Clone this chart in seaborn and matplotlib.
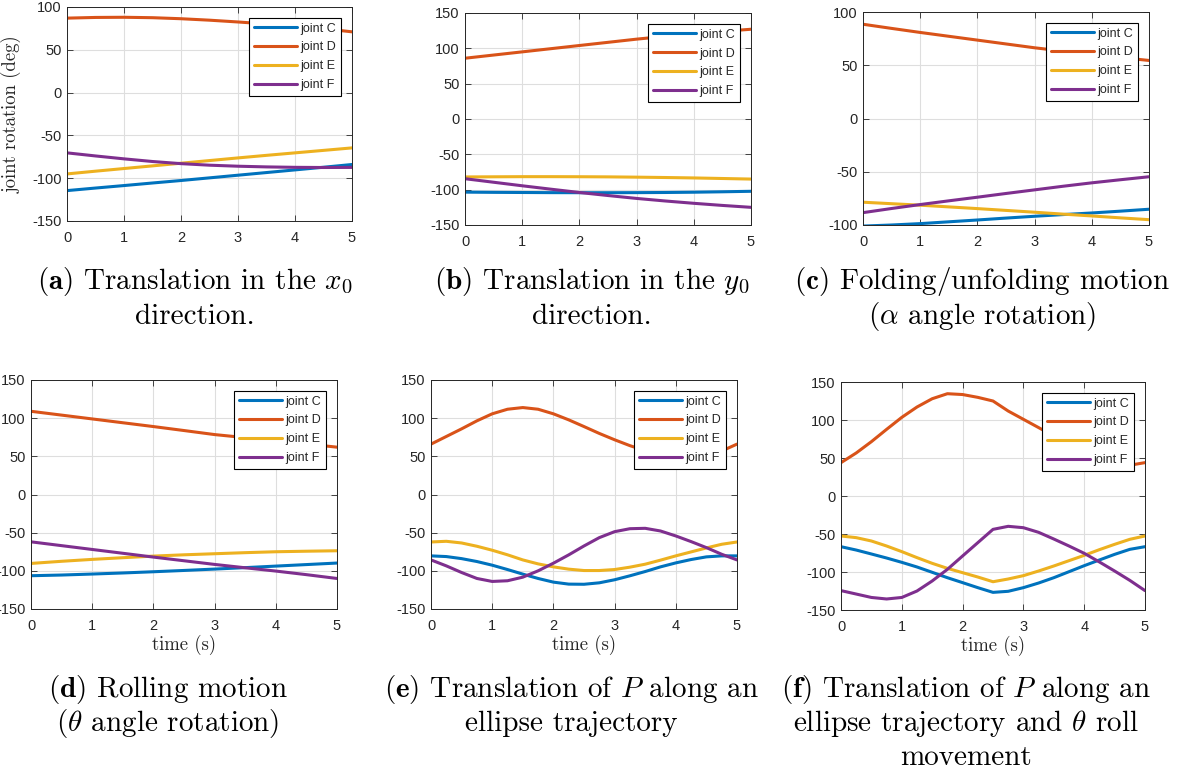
import matplotlib
matplotlib.use("Agg")
import matplotlib.pyplot as plt
from matplotlib.lines import Line2D
import numpy as np
import pandas as pd
import seaborn as sns

# ---------------- data ----------------
joints = ["joint C", "joint D", "joint E", "joint F"]
colors = ["#0072BD", "#D95319", "#EDB120", "#7E2F8E"]

t_half = [0.0, 0.5, 1.0, 1.5, 2.0, 2.5, 3.0, 3.5, 4.0, 4.5, 5.0]
t_quarter = [0.0, 0.25, 0.5, 0.75, 1.0, 1.25, 1.5, 1.75, 2.0, 2.25, 2.5,
             2.75, 3.0, 3.25, 3.5, 3.75, 4.0, 4.25, 4.5, 4.75, 5.0]

# (a) translation in x0
a_C = [-114.5, -111.5, -108.6, -105.6, -102.7, -99.6, -96.5, -93.4, -90.3, -87.2, -84.0]
a_D = [87.0, 87.8, 88.0, 87.5, 86.3, 84.6, 82.5, 80.2, 77.8, 74.7, 71.0]
a_E = [-95.0, -91.8, -88.7, -85.6, -82.5, -79.4, -76.3, -73.3, -70.4, -67.5, -64.6]
a_F = [-70.4, -74.0, -77.4, -80.5, -83.0, -84.8, -86.0, -86.8, -87.3, -87.5, -87.4]

# (b) translation in y0
b_C = [-103.5, -103.8, -104.0, -104.2, -104.3, -104.3, -104.2, -104.0, -103.6, -103.0, -102.3]
b_D = [86.0, 90.5, 95.0, 99.5, 104.0, 108.5, 113.0, 117.0, 120.5, 124.0, 127.0]
b_E = [-82.0, -81.8, -81.6, -81.6, -81.7, -81.9, -82.3, -82.8, -83.4, -84.2, -85.0]
b_F = [-84.5, -89.5, -94.5, -99.3, -104.0, -108.3, -112.4, -116.0, -119.3, -122.3, -125.0]

# (c) folding / unfolding
c_C = [-101.0, -100.0, -98.7, -97.0, -95.3, -93.5, -91.8, -90.2, -88.7, -87.0, -85.2]
c_D = [88.5, 84.6, 80.8, 77.2, 73.6, 70.0, 66.4, 63.3, 60.3, 57.3, 54.5]
c_E = [-78.6, -80.0, -81.4, -83.0, -84.6, -86.3, -88.0, -89.8, -91.5, -93.3, -95.0]
c_F = [-88.4, -84.5, -80.8, -77.3, -73.9, -70.4, -67.0, -63.6, -60.4, -57.5, -54.7]

# (d) rolling motion
d_C = [-106.4, -105.5, -104.2, -102.8, -101.2, -99.5, -97.7, -95.8, -93.8, -91.8, -89.8]
d_D = [109.0, 104.0, 99.0, 94.0, 89.0, 83.8, 78.5, 74.5, 70.6, 66.3, 62.0]
d_E = [-90.3, -87.5, -85.0, -82.8, -80.7, -79.0, -77.6, -76.2, -75.0, -74.3, -73.7]
d_F = [-62.0, -67.0, -72.0, -77.0, -82.0, -86.8, -91.6, -96.0, -100.3, -105.0, -110.0]

# (e) ellipse trajectory
e_C = [-80.4, -81.3, -84.0, -87.8, -92.6, -98.3, -104.3, -110.0, -114.8, -117.4, -117.6,
       -115.7, -111.7, -106.5, -100.9, -94.8, -89.6, -85.2, -81.7, -80.4, -80.4]
e_D = [66.0, 76.0, 86.0, 96.5, 105.7, 111.7, 113.9, 111.7, 105.7, 97.8, 89.0,
       80.0, 71.7, 64.0, 57.5, 52.5, 50.0, 49.8, 51.5, 57.0, 66.0]
e_E = [-62.2, -61.3, -63.5, -67.8, -73.0, -79.0, -85.7, -90.9, -94.8, -97.8, -99.6,
       -99.6, -98.3, -95.2, -91.3, -86.0, -80.4, -75.2, -70.0, -65.2, -62.2]
e_F = [-85.7, -93.5, -102.2, -110.0, -113.9, -113.0, -108.3, -100.0, -90.0, -79.1, -67.4,
       -56.5, -48.7, -44.8, -44.3, -47.8, -54.3, -61.7, -69.6, -78.3, -85.7]

# (f) ellipse trajectory + roll
f_C = [-66.7, -71.1, -76.3, -81.6, -87.3, -93.4, -100.4, -107.5, -114.0, -120.6, -126.8,
       -125.4, -120.6, -114.5, -107.5, -99.6, -91.7, -84.2, -76.8, -70.2, -66.7]
f_D = [43.9, 56.6, 71.5, 87.7, 103.5, 117.1, 128.0, 134.6, 133.5, 129.8, 125.0,
       111.8, 100.9, 90.0, 79.0, 68.5, 58.5, 50.0, 43.5, 40.5, 43.9]
f_E = [-52.6, -54.8, -59.2, -65.8, -73.2, -81.1, -88.6, -95.2, -100.9, -106.6, -112.8,
       -109.2, -104.8, -98.7, -92.1, -85.1, -78.1, -70.6, -63.6, -57.0, -52.6]
f_F = [-124.5, -129.0, -133.5, -135.5, -133.5, -125.0, -111.8, -96.5, -78.9, -61.4, -43.9,
       -39.9, -41.7, -47.8, -56.6, -65.8, -75.4, -86.8, -98.7, -111.0, -124.5]

x_ticks = [0, 1, 2, 3, 4, 5]

captions = [
    ["$\\mathbf{(a)}$ Translation in the $x_0$", "direction."],
    ["$\\mathbf{(b)}$ Translation in the $y_0$", "direction."],
    ["$\\mathbf{(c)}$ Folding/unfolding motion", "($\\alpha$ angle rotation)"],
    ["$\\mathbf{(d)}$ Rolling motion", "($\\theta$ angle rotation)"],
    ["$\\mathbf{(e)}$ Translation of $P$ along an", "ellipse trajectory"],
    ["$\\mathbf{(f)}$ Translation of $P$ along an", "ellipse trajectory and $\\theta$ roll",
     "movement"],
]

# ---------------- style ----------------
sns.set_style("ticks")
plt.rcParams.update({
    "font.family": ["Liberation Sans", "DejaVu Sans"],
    "mathtext.fontset": "cm",
    "axes.unicode_minus": False,
})

W, H = 1190, 778
fig = plt.figure(figsize=(W / 100, H / 100), dpi=100)

# pixel boxes (left, right, top, bottom)
boxes = [
    (67, 352, 7, 221),
    (465, 751, 13, 225),
    (863, 1149, 12, 225),
    (31, 337, 380, 609),
    (431, 737, 380, 609),
    (841, 1145, 382, 610),
]
ylims = [(-150, 100), (-150, 150), (-100, 100), (-150, 150), (-150, 150), (-150, 150)]
series = [
    (t_half, a_C, a_D, a_E, a_F),
    (t_half, b_C, b_D, b_E, b_F),
    (t_half, c_C, c_D, c_E, c_F),
    (t_half, d_C, d_D, d_E, d_F),
    (t_quarter, e_C, e_D, e_E, e_F),
    (t_quarter, f_C, f_D, f_E, f_F),
]
cap_x = [195, 592, 982, 168, 571, 966]
cap_base_top = [289, 324]
cap_base_bot = [697, 731, 765]

txt_col = "#262626"
palette = dict(zip(joints, colors))

for i, (box, yl, ser) in enumerate(zip(boxes, ylims, series)):
    l, r, t, b = box
    ax = fig.add_axes([l / W, 1 - b / H, (r - l) / W, (b - t) / H])
    tt, C, D, E, F = ser
    df = pd.DataFrame({
        "time": list(tt) * 4,
        "value": list(C) + list(D) + list(E) + list(F),
        "joint": sum([[j] * len(tt) for j in joints], []),
    })
    sns.lineplot(data=df, x="time", y="value", hue="joint", palette=palette,
                 estimator=None, sort=False, linewidth=2.2, legend=False, ax=ax)
    ax.set_xlim(0, 5)
    ax.set_ylim(*yl)
    ax.set_xticks(x_ticks)
    ax.set_yticks(np.arange(yl[0], yl[1] + 1, 50))
    ax.grid(True, color="#dedede", linewidth=0.8)
    ax.set_axisbelow(True)
    for s in ax.spines.values():
        s.set_visible(True)
        s.set_color(txt_col)
        s.set_linewidth(0.7)
    ax.tick_params(direction="in", top=True, right=True, length=4, width=0.6,
                   colors=txt_col, labelsize=10.5)
    ax.tick_params(axis="x", pad=7)
    ax.tick_params(axis="y", pad=4)
    ax.set_xlabel("")
    ax.set_ylabel("")
    if i >= 3:
        ax.set_xlabel("time (s)", fontfamily="cmr10", fontsize=13.5, color=txt_col)
        ax.xaxis.set_label_coords(0.5, -0.115)
    if i == 0:
        ax.set_ylabel("joint rotation (deg)", fontfamily="cmr10", fontsize=13.5,
                      color=txt_col)
        ax.yaxis.set_label_coords(-0.16, 0.5)
    handles = [Line2D([0], [0], color=c, lw=2.2) for c in colors]
    leg = ax.legend(handles, joints, loc="upper right", fontsize=9,
                    frameon=True, fancybox=False, framealpha=1,
                    edgecolor="black", borderaxespad=0.85, borderpad=0.4,
                    labelspacing=0.55, handlelength=3.4, handletextpad=0.3)
    leg.get_frame().set_linewidth(0.8)
    for txt in leg.get_texts():
        txt.set_color(txt_col)

    bases = cap_base_top if i < 3 else cap_base_bot
    for k, line in enumerate(captions[i]):
        fig.text(cap_x[i] / W, 1 - bases[k] / H, line, ha="center", va="baseline",
                 fontfamily="cmr10", fontsize=21, color="black")

fig.savefig("out.png", dpi=100)
